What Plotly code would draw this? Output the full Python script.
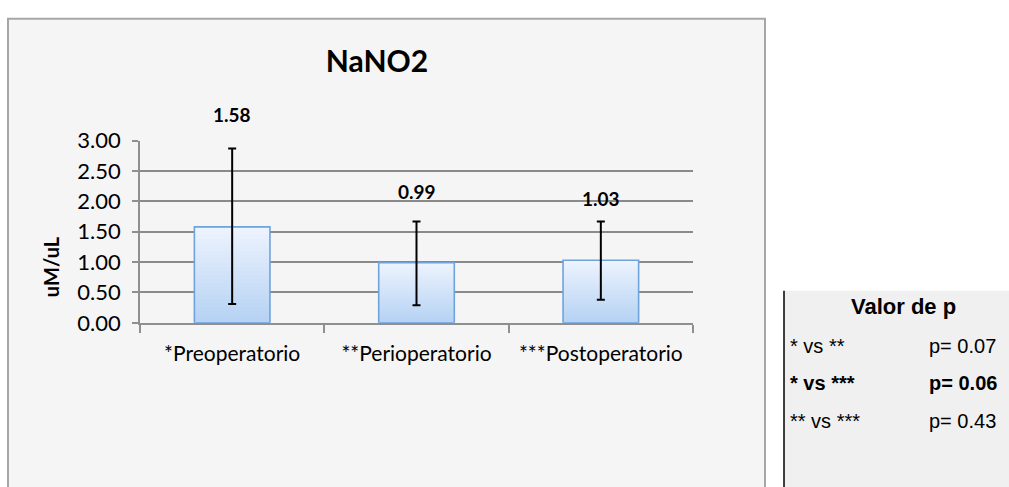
import plotly.graph_objects as go

# ---------------- data ----------------
CATEGORIES = ["*Preoperatorio", "**Perioperatorio", "***Postoperatorio"]
VALUES = [1.58, 0.99, 1.03]
ERR_PLUS = [1.29, 0.68, 0.64]
ERR_MINUS = [1.27, 0.70, 0.65]
VALUE_LABELS = ["1.58", "0.99", "1.03"]
TITLE = "NaNO2"
Y_TITLE = "uM/uL"
Y_TICKS = [0, 0.5, 1.0, 1.5, 2.0, 2.5, 3.0]

TABLE_HEADER = "Valor de p"
TABLE_COMPARISONS = ["* vs **", "* vs ***", "** vs ***"]
TABLE_PVALUES = ["p= 0.07", "p= 0.06", "p= 0.43"]
TABLE_BOLD = [False, True, False]

# ---------------- styles / layout ----------------
W, H = 1009, 487
CHART_FONT = "Lato"
TABLE_FONT = "Liberation Sans"
LABEL_SHIFT = [20, 16, 9]           # px above error-bar top for value labels
TABLE_ROW_Y = [351, 391, 431]       # px from top
N_GRAD = 24
TOP_RGB = (236, 243, 253)
BOT_RGB = (182, 210, 244)


def px(x):
    return x / W


def py(y):
    return (H - y) / H


fig = go.Figure()

# gradient bars: overlaid shrinking bars, light at top -> darker at bottom
for k in range(N_GRAD):
    frac = (N_GRAD - k) / N_GRAD
    t = k / (N_GRAD - 1)
    col = tuple(round(TOP_RGB[i] + (BOT_RGB[i] - TOP_RGB[i]) * t) for i in range(3))
    fig.add_trace(go.Bar(
        x=CATEGORIES, y=[v * frac for v in VALUES],
        marker=dict(color="rgb(%d,%d,%d)" % col, line=dict(width=0)),
        width=0.41, hoverinfo="skip", showlegend=False,
    ))

# outline + error bars
fig.add_trace(go.Bar(
    x=CATEGORIES, y=VALUES, width=0.41,
    marker=dict(color="rgba(0,0,0,0)", line=dict(color="#6fa3db", width=1.6)),
    error_y=dict(type="data", array=ERR_PLUS, arrayminus=ERR_MINUS,
                 color="black", thickness=2, width=4, visible=True),
    showlegend=False,
))

# value labels above error bars
for c, v, e, lab, s in zip(CATEGORIES, VALUES, ERR_PLUS, VALUE_LABELS, LABEL_SHIFT):
    fig.add_annotation(x=c, y=v + e, xref="x", yref="y", text="<b>%s</b>" % lab,
                       showarrow=False, xanchor="center", yanchor="bottom", yshift=s,
                       font=dict(family=CHART_FONT, size=19, color="black"))

# y axis title
fig.add_annotation(x=px(51), y=py(268), xref="paper", yref="paper",
                   text="<b>%s</b>" % Y_TITLE, textangle=-90, showarrow=False,
                   xanchor="center", yanchor="middle",
                   font=dict(family=CHART_FONT, size=20, color="black"))

# chart outer box
fig.add_shape(type="rect", xref="paper", yref="paper",
              x0=px(8), x1=px(765), y0=-0.05, y1=py(5),
              fillcolor="#f5f5f5", line=dict(color="#a6a6a6", width=2), layer="below")

# table box
fig.add_shape(type="rect", xref="paper", yref="paper",
              x0=px(784), x1=1.05, y0=-0.05, y1=py(293),
              fillcolor="#f0f0f0", line=dict(width=0), layer="below")
fig.add_shape(type="line", xref="paper", yref="paper",
              x0=px(784), x1=px(784), y0=-0.05, y1=py(293),
              line=dict(color="black", width=1.5))

fig.add_annotation(x=px(903), y=py(310), xref="paper", yref="paper",
                   text="<b>%s</b>" % TABLE_HEADER, showarrow=False,
                   xanchor="center", yanchor="middle",
                   font=dict(family=TABLE_FONT, size=22, color="black"))
for comp, pv, b, ry in zip(TABLE_COMPARISONS, TABLE_PVALUES, TABLE_BOLD, TABLE_ROW_Y):
    fmt = "<b>%s</b>" if b else "%s"
    fig.add_annotation(x=px(788), y=py(ry), xref="paper", yref="paper",
                       text=fmt % comp, showarrow=False, xanchor="left", yanchor="middle",
                       font=dict(family=TABLE_FONT, size=20, color="black"))
    fig.add_annotation(x=px(927), y=py(ry), xref="paper", yref="paper",
                       text=fmt % pv, showarrow=False, xanchor="left", yanchor="middle",
                       font=dict(family=TABLE_FONT, size=20, color="black"))

fig.update_layout(
    width=W, height=H,
    margin=dict(l=0, r=0, t=0, b=0),
    paper_bgcolor="white",
    plot_bgcolor="white",
    barmode="overlay",
    showlegend=False,
    title=dict(text="<b>%s</b>" % TITLE, x=px(377), y=py(50), xanchor="center",
               yanchor="middle", xref="paper", yref="paper",
               font=dict(family=CHART_FONT, size=30, color="black")),
    xaxis=dict(domain=[px(140), px(693)], type="category",
               tickson="boundaries", ticks="outside", ticklen=8, tickwidth=1.5,
               tickcolor="#8f8f8f", showline=True, linecolor="#8f8f8f", linewidth=1.5,
               showgrid=False, ticklabelstandoff=11,
               tickfont=dict(family=CHART_FONT, size=21, color="black")),
    yaxis=dict(domain=[py(327), py(134)], range=[0, 3], tickvals=Y_TICKS,
               tickformat=".2f", ticks="outside", ticklen=6, tickwidth=1.5,
               tickcolor="#8f8f8f", showline=True, linecolor="#8f8f8f", linewidth=1.5,
               showgrid=True, gridcolor="#8a8a8a", gridwidth=1.6, zeroline=False,
               ticklabelstandoff=7,
               tickfont=dict(family=CHART_FONT, size=22, color="black")),
)

fig.write_html("out.html", config={"displayModeBar": False},
               post_script="document.body.style.margin='0';document.body.style.overflow='hidden';")
